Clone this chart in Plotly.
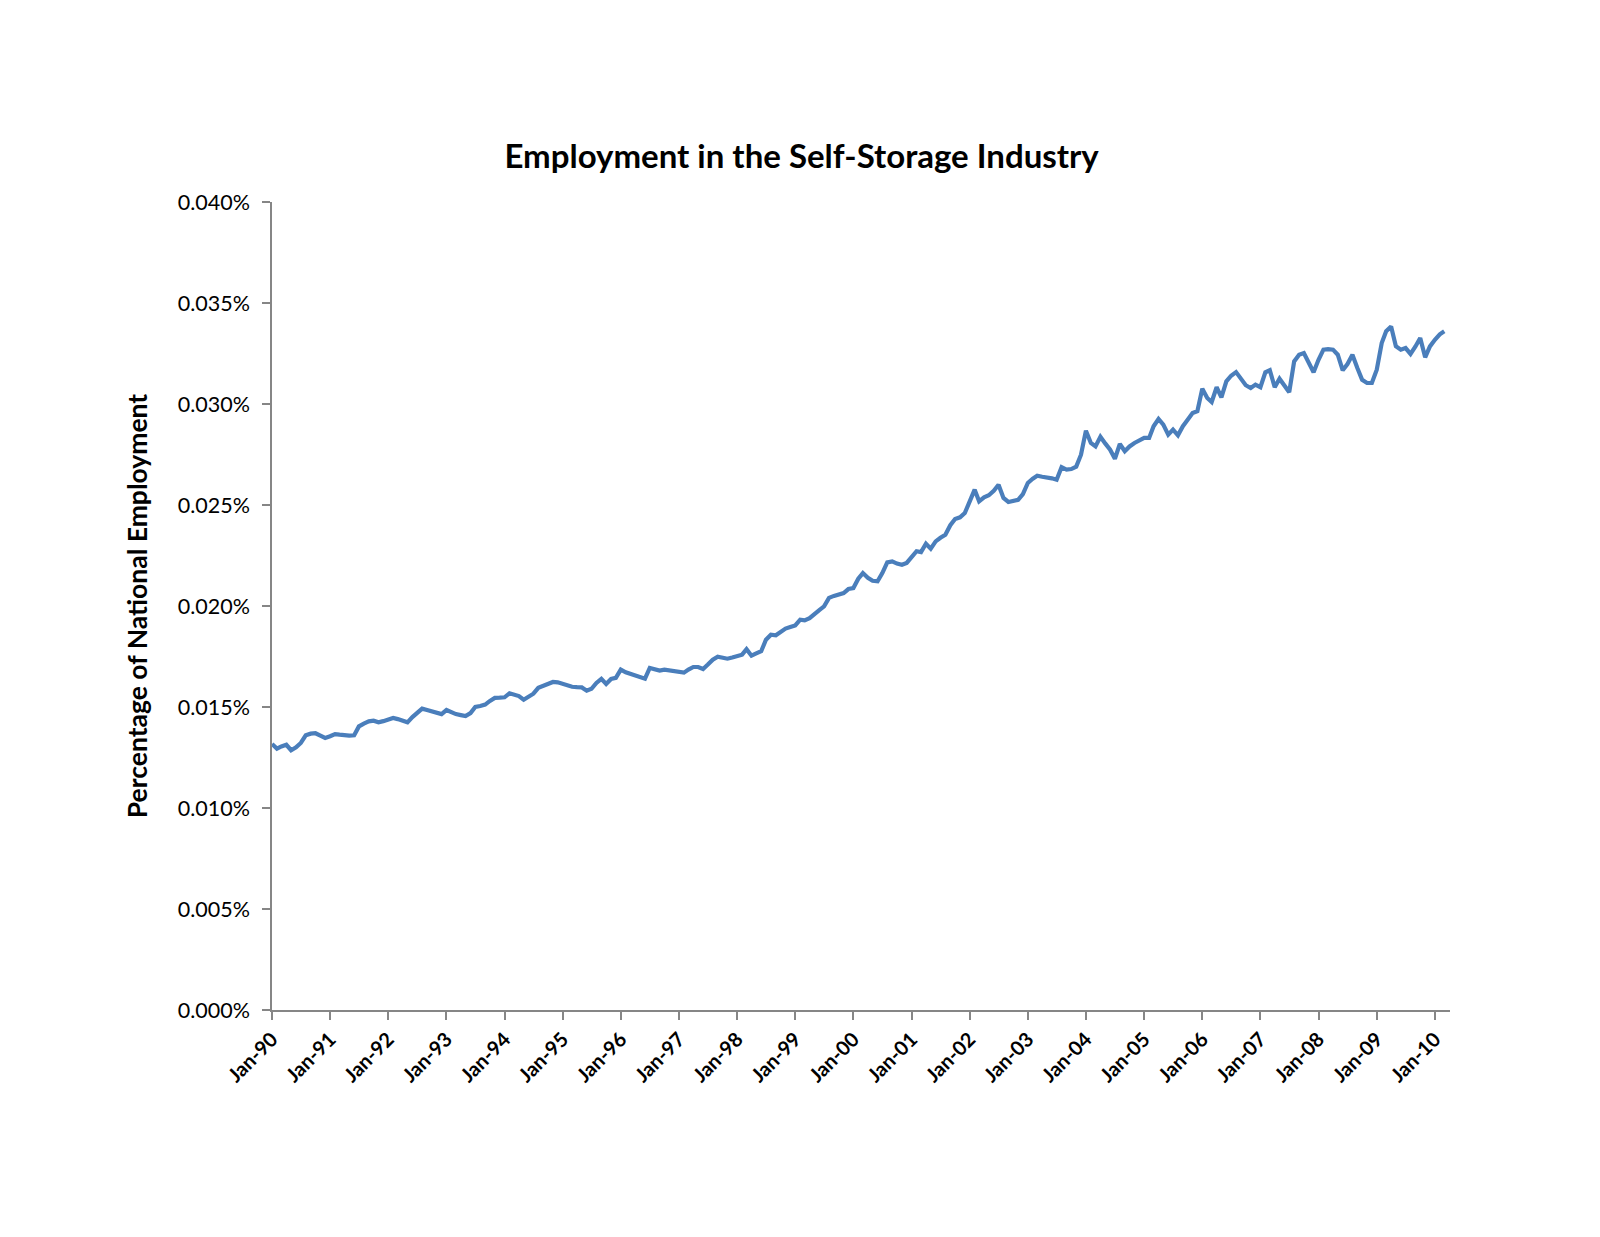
import pandas as pd
import plotly.graph_objects as go

#   Self-storage employment as a share of national employment (%), monthly Jan-1990 .. Mar-2010
share_1990 = [0.01317, 0.01294, 0.01305, 0.01313, 0.01286, 0.01300, 0.01322, 0.01360, 0.01368, 0.01370, 0.01358, 0.01347]
share_1991 = [0.01355, 0.01366, 0.01363, 0.01360, 0.01358, 0.01360, 0.01404, 0.01418, 0.01429, 0.01432, 0.01424, 0.01430]
share_1992 = [0.01437, 0.01446, 0.01440, 0.01430, 0.01424, 0.01450, 0.01470, 0.01492, 0.01485, 0.01479, 0.01472, 0.01465]
share_1993 = [0.01485, 0.01472, 0.01465, 0.01460, 0.01455, 0.01470, 0.01500, 0.01505, 0.01512, 0.01530, 0.01545, 0.01546]
share_1994 = [0.01548, 0.01568, 0.01560, 0.01554, 0.01536, 0.01550, 0.01566, 0.01595, 0.01605, 0.01615, 0.01624, 0.01622]
share_1995 = [0.01614, 0.01607, 0.01600, 0.01598, 0.01597, 0.01581, 0.01590, 0.01619, 0.01639, 0.01614, 0.01639, 0.01644]
share_1996 = [0.01685, 0.01672, 0.01663, 0.01655, 0.01648, 0.01640, 0.01693, 0.01686, 0.01680, 0.01685, 0.01682, 0.01680]
share_1997 = [0.01677, 0.01670, 0.01685, 0.01698, 0.01698, 0.01688, 0.01710, 0.01734, 0.01749, 0.01744, 0.01739, 0.01745]
share_1998 = [0.01752, 0.01759, 0.01786, 0.01754, 0.01765, 0.01776, 0.01833, 0.01858, 0.01855, 0.01870, 0.01888, 0.01896]
share_1999 = [0.01904, 0.01932, 0.01929, 0.01940, 0.01962, 0.01980, 0.01998, 0.02040, 0.02050, 0.02056, 0.02064, 0.02084]
share_2000 = [0.02089, 0.02135, 0.02163, 0.02140, 0.02125, 0.02122, 0.02163, 0.02216, 0.02221, 0.02210, 0.02204, 0.02213]
share_2001 = [0.02245, 0.02271, 0.02267, 0.02308, 0.02284, 0.02320, 0.02338, 0.02353, 0.02400, 0.02431, 0.02439, 0.02460]
share_2002 = [0.02518, 0.02576, 0.02518, 0.02538, 0.02548, 0.02570, 0.02600, 0.02535, 0.02515, 0.02520, 0.02526, 0.02554]
share_2003 = [0.02609, 0.02630, 0.02645, 0.02640, 0.02637, 0.02632, 0.02625, 0.02687, 0.02675, 0.02678, 0.02690, 0.02749]
share_2004 = [0.02868, 0.02807, 0.02790, 0.02838, 0.02805, 0.02774, 0.02729, 0.02802, 0.02766, 0.02790, 0.02807, 0.02820]
share_2005 = [0.02832, 0.02832, 0.02890, 0.02926, 0.02898, 0.02848, 0.02873, 0.02845, 0.02890, 0.02922, 0.02955, 0.02964]
share_2006 = [0.03076, 0.03030, 0.03010, 0.03083, 0.03033, 0.03112, 0.03140, 0.03158, 0.03125, 0.03093, 0.03079, 0.03096]
share_2007 = [0.03083, 0.03157, 0.03167, 0.03083, 0.03125, 0.03090, 0.03058, 0.03211, 0.03244, 0.03252, 0.03203, 0.03157]
share_2008 = [0.03219, 0.03269, 0.03272, 0.03269, 0.03244, 0.03167, 0.03198, 0.03244, 0.03178, 0.03120, 0.03104, 0.03104]
share_2009 = [0.03170, 0.03302, 0.03360, 0.03384, 0.03286, 0.03269, 0.03277, 0.03248, 0.03285, 0.03327, 0.03231, 0.03285]
share_2010 = [0.03318, 0.03345, 0.03360]

share = (share_1990 + share_1991 + share_1992 + share_1993 + share_1994 + share_1995 + share_1996
         + share_1997 + share_1998 + share_1999 + share_2000 + share_2001 + share_2002 + share_2003
         + share_2004 + share_2005 + share_2006 + share_2007 + share_2008 + share_2009 + share_2010)
months = pd.date_range("1990-01-01", periods=len(share), freq="MS")

#   Axis ticks
year_ticks = pd.date_range("1990-01-01", "2010-01-01", freq="YS")
year_labels = [d.strftime("Jan-%y") for d in year_ticks]
y_ticks = [0.000, 0.005, 0.010, 0.015, 0.020, 0.025, 0.030, 0.035, 0.040]
y_labels = [f"{v:.3f}%" for v in y_ticks]

axis_grey = "#868686"
font_name = "Lato, 'Open Sans', sans-serif"

fig = go.Figure()
fig.add_trace(go.Scatter(x=months, y=share, mode="lines",
                         line=dict(color="#4a7ebb", width=4.2), hoverinfo="x+y"))

fig.update_layout(
    width=1600, height=1237,
    margin=dict(l=264, r=158, t=194, b=235),
    paper_bgcolor="white", plot_bgcolor="white",
    showlegend=False,
    font=dict(family=font_name, color="black"),
    title=dict(text="<b>Employment in the Self-Storage Industry</b>",
               x=0.496, xref="container", xanchor="center",
               y=1 - 148 / 1237, yref="container", yanchor="middle",
               font=dict(size=33, family=font_name, color="black")),
)

fig.update_xaxes(
    range=["1990-01-01", "2010-04-06"],
    tickvals=year_ticks, ticktext=[f"<b>{t}</b>" for t in year_labels], tickangle=-45,
    tickfont=dict(size=20, family=font_name, color="black"),
    ticks="outside", ticklen=8, tickcolor=axis_grey, tickwidth=1.5,
    showline=True, linecolor=axis_grey, linewidth=1.5,
    showgrid=False, zeroline=False,
)
fig.update_yaxes(
    range=[0, 0.04],
    tickvals=y_ticks, ticktext=y_labels,
    tickfont=dict(size=21.5, family=font_name, color="black"),
    ticks="outside", ticklen=8, tickcolor=axis_grey, tickwidth=1.5,
    ticklabelstandoff=8,
    showline=True, linecolor=axis_grey, linewidth=1.5,
    showgrid=False, zeroline=False,
    title=dict(text="<b>Percentage of National Employment</b>", standoff=22,
               font=dict(size=26.5, family=font_name, color="black")),
)

fig.write_html("out.html")
